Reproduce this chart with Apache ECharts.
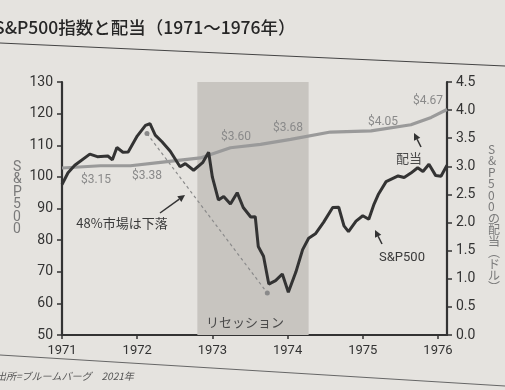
<!DOCTYPE html>
<html>
<head>
<meta charset="utf-8">
<script src="https://cdn.jsdelivr.net/npm/echarts@6/dist/echarts.min.js"></script>
<style>
html,body{margin:0;padding:0;background:#e5e3df;}
#c{width:505px;height:390px;}
</style>
</head>
<body>
<div id="c"></div>
<script>
// ---- data ----
const yearTicks = [1971, 1972, 1973, 1974, 1975, 1976];
const spX = [1971.00,1971.08,1971.17,1971.37,1971.47,1971.61,1971.67,1971.73,1971.81,1971.88,
  1972.00,1972.11,1972.17,1972.24,1972.33,1972.44,1972.53,1972.57,1972.64,1972.75,1972.87,1972.95,
  1973.00,1973.08,1973.15,1973.24,1973.33,1973.41,1973.51,1973.57,1973.61,1973.68,1973.75,1973.84,1973.93,
  1974.01,1974.11,1974.20,1974.28,1974.37,1974.48,1974.60,1974.68,1974.75,1974.81,1974.91,
  1975.00,1975.08,1975.15,1975.21,1975.31,1975.47,1975.55,1975.64,1975.73,1975.80,1975.88,1975.97,1976.04,1976.12];
const spY = [97.6,101.3,103.7,107.2,106.4,106.6,105.4,109.3,107.8,107.9,
  112.9,116.3,116.8,113.2,111.1,108.1,104.7,103.2,104.2,102.1,104.5,107.8,
  99.9,92.7,93.8,91.4,95.0,90.3,87.3,87.4,78.0,74.9,66.1,67.2,69.3,
  63.5,69.9,77.0,80.6,82.0,85.7,90.3,90.4,84.5,82.7,86.0,
  87.7,86.6,91.4,94.6,98.5,100.3,99.8,101.2,102.9,101.7,104.0,100.4,100.2,103.7];
const divX = [1971.00,1971.51,1971.91,1972.31,1972.84,1973.24,1973.64,1974.04,1974.57,1975.11,1975.64,1975.91,1976.12];
const divY = [2.97,3.01,3.01,3.07,3.15,3.33,3.39,3.48,3.61,3.63,3.74,3.87,4.01];
const dropX = [1972.13, 1973.73];
const dropY = [113.7, 63.3];
const recession = [1972.80, 1974.28];
const divLabels = ['$3.15','$3.38','$3.60','$3.68','$4.05','$4.67'];

const chart = echarts.init(document.getElementById('c'));
const numFont = 'Roboto';
const jpFont = '"Noto Sans CJK JP"';

const labelPos = [[96,180],[147,176],[236,137],[288,128],[383,122],[428,101]];
const graphics = [
  {type:'text', left:-6, top:19, style:{text:'S&P500指数と配当（1971～1976年）', font:'500 17.5px '+jpFont, fill:'#262626'}},
  {type:'line', shape:{x1:0,y1:43,x2:505,y2:66}, style:{stroke:'#444', lineWidth:1.2}},
  {type:'line', shape:{x1:0,y1:355,x2:505,y2:386}, style:{stroke:'#666', lineWidth:1}},
  {type:'text', left:-4, top:371, style:{text:'出所=ブルームバーグ　2021年', font:'italic 10px '+jpFont, fill:'#555'}},
  {type:'text', left:13, top:160, style:{text:'S\n&\nP\n5\n0\n0', font:'14px '+numFont, fill:'#7a7a7a', align:'center', lineHeight:12.5}},
  {type:'text', left:488, top:143, style:{text:'S\n&\nP\n5\n0\n0\nの\n配\n当\n︵\nド\nル\n︶', font:'12px '+jpFont, fill:'#7a7a7a', align:'center', lineHeight:11.5}},
  {type:'text', x:122, y:223, style:{text:'48%市場は下落', font:'13px '+jpFont, fill:'#3a3a3a', align:'center', verticalAlign:'middle'}},
  {type:'text', x:245, y:322, style:{text:'リセッション', font:'13px '+jpFont, fill:'#4a4a4a', align:'center', verticalAlign:'middle'}},
  {type:'text', x:409, y:158, style:{text:'配当', font:'13px '+jpFont, fill:'#4a4a4a', align:'center', verticalAlign:'middle'}},
  {type:'text', x:402, y:258, style:{text:'S&P500', font:'13px '+numFont, fill:'#3a3a3a', align:'center', verticalAlign:'middle'}}
];
divLabels.forEach((t,i)=>{
  graphics.push({type:'text', x:labelPos[i][0], y:labelPos[i][1], style:{text:t, font:'12px '+numFont, fill:'#8a8a8a', align:'center', verticalAlign:'middle'}});
});
function arrow(x1,y1,x2,y2){
  const a = Math.atan2(y2-y1,x2-x1), L=7, w=3.5;
  const bx = x2 - L*Math.cos(a), by = y2 - L*Math.sin(a);
  graphics.push({type:'line', shape:{x1:x1,y1:y1,x2:bx,y2:by}, style:{stroke:'#333', lineWidth:1.5}});
  graphics.push({type:'polygon', shape:{points:[[x2,y2],[bx+w*Math.sin(a),by-w*Math.cos(a)],[bx-w*Math.sin(a),by+w*Math.cos(a)]]}, style:{fill:'#333'}});
}
arrow(160,213,185,195);
arrow(421,147,414,133);
arrow(382,244,375,230);
graphics.forEach(g=>{ g.z = 100; });

const axisLineStyle = {color:'#333', width:2.2};
chart.setOption({
  animation:false,
  backgroundColor:'#e5e3df',
  grid:{left:62, right:58, top:82, bottom:55},
  xAxis:{type:'value', min:1971, max:1976.12, interval:1,
    axisLine:{show:true, lineStyle:axisLineStyle, onZero:false},
    axisTick:{show:true, length:4, lineStyle:{color:'#333', width:1.5}},
    axisLabel:{fontFamily:numFont, fontSize:13, color:'#333', margin:9, showMaxLabel:false,
      formatter:v=> yearTicks.indexOf(Math.round(v))>=0 ? String(Math.round(v)) : ''},
    splitLine:{show:false}},
  yAxis:[
    {type:'value', min:50, max:130, interval:10, position:'left',
      axisLine:{show:true, lineStyle:axisLineStyle},
      axisTick:{show:true, length:5, lineStyle:{color:'#333', width:1.5}},
      axisLabel:{fontFamily:numFont, fontSize:14, color:'#333', margin:9},
      splitLine:{show:false}},
    {type:'value', min:0, max:4.5, interval:0.5, position:'right',
      axisLine:{show:true, lineStyle:axisLineStyle},
      axisTick:{show:true, length:5, lineStyle:{color:'#333', width:1.5}},
      axisLabel:{fontFamily:numFont, fontSize:14, color:'#333', margin:9, formatter:v=>v.toFixed(1)},
      splitLine:{show:false}}
  ],
  series:[
    {type:'line', yAxisIndex:0, data:[], silent:true, clip:false,
      markArea:{silent:true, itemStyle:{color:'#c8c5c0'},
        data:[[{xAxis:recession[0], yAxis:50},{xAxis:recession[1], yAxis:133.5}]]}},
    {type:'line', yAxisIndex:1, data:divX.map((x,i)=>[x,divY[i]]), showSymbol:false,
      lineStyle:{color:'#9a9a9a', width:3.2}, z:3},
    {type:'line', yAxisIndex:0, data:dropX.map((x,i)=>[x,dropY[i]]), symbol:'circle', symbolSize:5,
      itemStyle:{color:'#8a8a8a'}, lineStyle:{color:'#8a8a8a', width:1.2, type:[3,3]}, z:2},
    {type:'line', yAxisIndex:0, data:spX.map((x,i)=>[x,spY[i]]), showSymbol:false,
      lineStyle:{color:'#333', width:3}, z:4}
  ],
  graphic:graphics
});
</script>
</body>
</html>
